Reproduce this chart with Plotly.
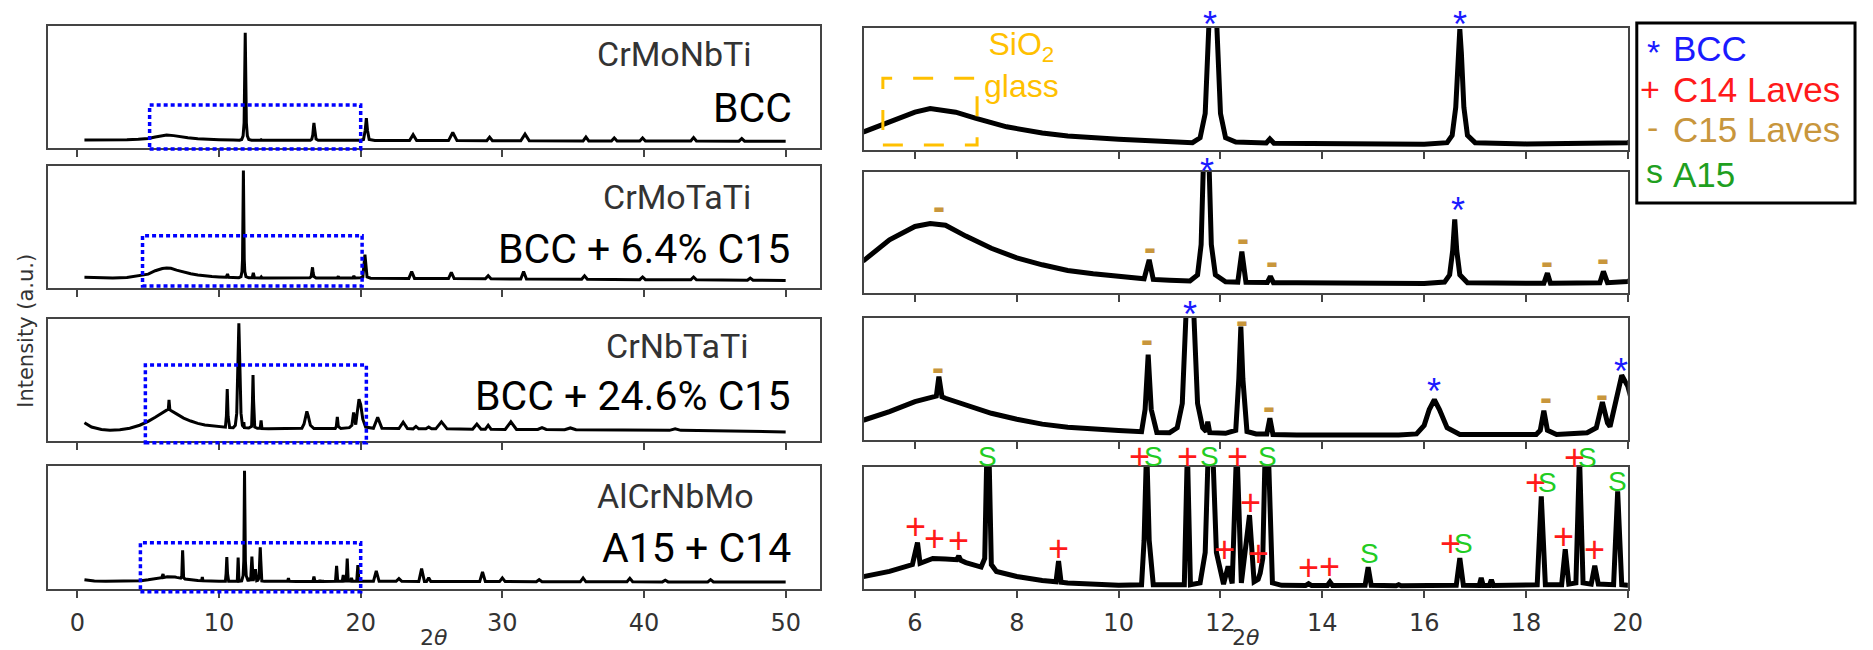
import plotly.graph_objects as go

# ---------------- data ----------------
samples = ["CrMoNbTi", "CrMoTaTi", "CrNbTaTi", "AlCrNbMo"]
phases = ["BCC", "BCC + 6.4% C15", "BCC + 24.6% C15", "A15 + C14"]

left_ticks = [0, 10, 20, 30, 40, 50]
right_ticks = [6, 8, 10, 12, 14, 16, 18, 20]

# XRD pattern vertices (2theta, intensity a.u.)
crmonbti = [
    (0.5, 0.07), (1.5, 0.06), (2.5, 0.06), (3.5, 0.08), (4.3, 0.11), (5.0, 0.15), (5.5, 0.23),
    (6.0, 0.31), (6.3, 0.34), (6.8, 0.31), (7.2, 0.26), (7.8, 0.19), (8.5, 0.14), (9.0, 0.115),
    (10.0, 0.088), (11.0, 0.068), (11.45, 0.06),
    (11.6, 0.1), (11.7, 0.3), (11.77, 1.0), (11.85, 5.88), (11.93, 1.0), (12.0, 0.3), (12.1, 0.1),
    (12.3, 0.065),
    (12.9, 0.058), (12.97, 0.09), (13.05, 0.055),
    (14.0, 0.05), (15.0, 0.048), (16.0, 0.048), (16.45, 0.06),
    (16.55, 0.12), (16.62, 0.35), (16.67, 0.8), (16.7, 0.99), (16.73, 0.8), (16.78, 0.35),
    (16.85, 0.12), (17.0, 0.06),
    (18.0, 0.05), (19.0, 0.05), (20.0, 0.06),
    (20.2, 0.1), (20.32, 0.6), (20.4, 1.26), (20.48, 0.6), (20.6, 0.1), (21.0, 0.05),
    (23.45, 0.045), (23.7, 0.36), (23.95, 0.045),
    (26.2, 0.04), (26.5, 0.48), (26.8, 0.04),
    (28.9, 0.035), (29.1, 0.23), (29.3, 0.035),
    (31.3, 0.03), (31.6, 0.39), (31.9, 0.03),
    (35.7, 0.025), (35.9, 0.23), (36.1, 0.025),
    (37.7, 0.02), (37.9, 0.18), (38.1, 0.02),
    (39.7, 0.02), (39.9, 0.18), (40.1, 0.02),
    (43.3, 0.015), (43.5, 0.2), (43.7, 0.015),
    (46.7, 0.01), (46.9, 0.15), (47.1, 0.01),
    (50.0, 0.0),
]

crmotati = [
    (0.5, 0.12), (1.5, 0.09), (2.5, 0.08), (3.5, 0.11), (4.3, 0.18), (5.0, 0.27), (5.5, 0.44),
    (6.0, 0.55), (6.3, 0.575), (6.6, 0.56), (7.0, 0.47), (7.5, 0.37), (8.0, 0.29), (8.5, 0.233),
    (9.0, 0.186), (9.5, 0.159), (10.0, 0.137), (10.5, 0.117),
    (10.6, 0.274), (10.68, 0.112),
    (11.0, 0.105), (11.4, 0.1),
    (11.55, 0.15), (11.62, 0.4), (11.66, 1.0), (11.72, 5.37), (11.78, 1.0), (11.82, 0.4),
    (11.9, 0.15), (12.1, 0.092),
    (12.34, 0.09), (12.42, 0.342), (12.5, 0.088),
    (12.92, 0.087), (12.98, 0.137), (13.04, 0.085),
    (13.5, 0.085), (14.0, 0.082), (15.0, 0.079), (16.0, 0.078), (16.4, 0.09),
    (16.5, 0.15), (16.56, 0.35), (16.6, 0.608), (16.64, 0.35), (16.7, 0.15), (16.85, 0.085),
    (17.5, 0.08), (18.35, 0.08), (18.42, 0.164), (18.48, 0.08),
    (19.0, 0.082), (19.45, 0.085), (19.52, 0.178), (19.6, 0.085),
    (20.0, 0.095), (20.15, 0.13), (20.3, 1.23), (20.45, 0.13), (20.7, 0.07),
    (23.4, 0.06), (23.6, 0.40), (23.8, 0.06),
    (26.2, 0.055), (26.4, 0.36), (26.6, 0.055),
    (28.8, 0.04), (29.0, 0.19), (29.2, 0.04),
    (31.3, 0.035), (31.5, 0.40), (31.7, 0.035),
    (35.6, 0.02), (35.8, 0.19), (36.0, 0.02),
    (39.7, 0.0), (39.9, 0.13), (40.1, 0.0),
    (43.3, -0.01), (43.5, 0.13), (43.7, -0.01),
    (47.3, -0.03), (47.5, 0.08), (47.7, -0.03),
    (50.0, -0.04),
]

crnbtati = [
    (0.5, 0.14), (1.0, 0.07), (1.7, 0.03), (2.3, 0.017), (3.0, 0.025), (3.7, 0.05), (4.4, 0.1),
    (5.0, 0.164), (5.5, 0.233), (6.0, 0.315), (6.3, 0.35), (6.42, 0.36),
    (6.47, 0.52), (6.53, 0.355),
    (6.6, 0.342), (7.0, 0.288), (7.5, 0.219), (8.0, 0.17), (8.5, 0.13), (9.0, 0.104), (9.5, 0.088),
    (10.0, 0.077), (10.45, 0.068),
    (10.52, 0.25), (10.58, 0.70), (10.64, 0.25), (10.75, 0.062),
    (11.0, 0.06), (11.15, 0.1), (11.25, 0.3), (11.32, 1.0), (11.4, 1.79), (11.48, 1.0),
    (11.55, 0.3), (11.65, 0.1),
    (11.72, 0.07), (11.75, 0.15), (11.79, 0.06),
    (12.1, 0.055), (12.3, 0.08), (12.36, 0.5), (12.4, 0.93), (12.44, 0.5), (12.52, 0.07),
    (12.7, 0.05), (12.91, 0.05), (12.97, 0.178), (13.03, 0.045),
    (13.5, 0.042), (14.5, 0.041), (15.5, 0.042), (15.85, 0.05),
    (16.0, 0.12), (16.1, 0.25), (16.2, 0.33), (16.3, 0.25), (16.45, 0.1), (16.7, 0.045),
    (17.5, 0.041), (18.2, 0.045), (18.28, 0.08), (18.35, 0.24), (18.42, 0.08), (18.6, 0.045),
    (19.2, 0.06), (19.38, 0.1), (19.5, 0.31), (19.6, 0.14), (19.65, 0.11), (19.75, 0.3),
    (19.88, 0.53), (20.0, 0.44), (20.15, 0.2), (20.35, 0.07),
    (20.9, 0.05), (21.2, 0.23), (21.5, 0.05),
    (22.7, 0.045), (23.0, 0.15), (23.3, 0.045),
    (23.7, 0.04), (23.9, 0.08), (24.1, 0.04),
    (24.6, 0.04), (24.8, 0.07), (25.0, 0.04),
    (25.3, 0.04), (25.7, 0.156), (26.1, 0.04),
    (27.9, 0.035), (28.2, 0.12), (28.5, 0.035),
    (28.8, 0.035), (29.0, 0.10), (29.2, 0.035),
    (30.2, 0.03), (30.6, 0.156), (31.0, 0.03),
    (32.5, 0.03), (32.8, 0.06), (33.1, 0.03),
    (34.4, 0.025), (34.8, 0.055), (35.2, 0.025),
    (41.8, 0.015), (42.2, 0.04), (42.6, 0.015),
    (50.0, -0.01),
]

alcrnbmo = [
    (0.5, 0.11), (1.2, 0.05), (2.0, 0.03), (3.0, 0.03), (4.0, 0.04), (4.5, 0.06), (5.0, 0.103),
    (5.5, 0.144), (5.95, 0.2),
    (6.05, 0.38), (6.1, 0.21),
    (6.35, 0.25), (6.6, 0.245), (6.82, 0.24), (6.86, 0.27), (6.9, 0.235), (7.0, 0.217), (7.3, 0.18),
    (7.37, 0.25), (7.4, 1.0), (7.43, 1.49), (7.46, 1.0), (7.5, 0.2),
    (7.6, 0.144), (8.0, 0.103), (8.5, 0.07), (8.77, 0.06), (8.82, 0.23), (8.87, 0.055),
    (9.0, 0.049), (9.5, 0.035), (10.0, 0.03), (10.45, 0.035),
    (10.5, 0.4), (10.55, 1.18), (10.6, 0.4), (10.68, 0.035),
    (11.0, 0.03), (11.29, 0.035), (11.35, 1.15), (11.41, 0.035),
    (11.6, 0.05), (11.7, 0.3), (11.75, 1.0), (11.8, 5.24), (11.86, 1.0), (11.92, 0.3), (12.06, 0.04),
    (12.15, 0.185), (12.23, 0.045),
    (12.32, 1.2), (12.41, 0.05),
    (12.57, 0.606), (12.66, 0.06),
    (12.74, 0.08), (12.78, 0.13), (12.83, 0.25), (12.87, 1.0), (12.91, 1.64), (12.95, 1.0),
    (13.02, 0.05), (13.2, 0.03),
    (13.67, 0.028), (13.73, 0.043), (13.79, 0.028),
    (14.1, 0.028), (14.15, 0.057), (14.2, 0.028),
    (14.84, 0.03), (14.9, 0.18), (14.96, 0.03),
    (15.45, 0.027), (15.5, 0.035), (15.55, 0.027),
    (16.63, 0.03), (16.7, 0.253), (16.77, 0.03),
    (17.08, 0.028), (17.12, 0.09), (17.16, 0.028),
    (17.28, 0.028), (17.32, 0.076), (17.36, 0.028),
    (18.22, 0.035), (18.3, 0.76), (18.38, 0.035),
    (18.7, 0.035), (18.77, 0.326), (18.84, 0.04),
    (18.98, 0.05), (19.05, 1.1), (19.12, 0.05),
    (19.28, 0.04), (19.35, 0.19), (19.42, 0.04),
    (19.72, 0.035), (19.8, 0.80), (19.88, 0.035),
    (20.0, 0.03),
    (20.9, 0.03), (21.1, 0.52), (21.3, 0.03),
    (22.5, 0.03), (22.7, 0.16), (22.9, 0.03),
    (24.1, 0.025), (24.3, 0.63), (24.5, 0.025),
    (24.65, 0.025), (24.8, 0.2), (24.95, 0.025),
    (28.4, 0.02), (28.6, 0.47), (28.8, 0.02),
    (29.8, 0.02), (30.0, 0.19), (30.2, 0.02),
    (32.4, 0.015), (32.6, 0.11), (32.8, 0.015),
    (35.5, 0.01), (35.7, 0.19), (35.9, 0.01),
    (38.8, 0.01), (39.0, 0.17), (39.2, 0.01),
    (41.3, 0.005), (41.5, 0.08), (41.7, 0.005),
    (44.5, 0.0), (44.7, 0.11), (44.9, 0.0),
    (50.0, 0.0),
]

patterns = [crmonbti, crmotati, crnbtati, alcrnbmo]

# phase markers on the zoomed panels: (panel, 2theta, height as fraction of panel)
bcc_marks = [(0, 11.80, 1.093), (0, 16.70, 1.093),
             (1, 11.73, 1.07), (1, 16.66, 0.745),
             (2, 11.40, 1.096), (2, 16.19, 0.466), (2, 19.87, 0.625)]
c15_marks = [(1, 6.48, 0.70), (1, 10.62, 0.356), (1, 12.44, 0.433), (1, 13.01, 0.241),
             (1, 18.41, 0.247), (1, 19.52, 0.268),
             (2, 6.45, 0.58), (2, 10.55, 0.81), (2, 12.42, 0.964), (2, 12.96, 0.255),
             (2, 18.40, 0.334), (2, 19.50, 0.356)]
c14_marks = [(3, 10.41, 1.084), (3, 11.35, 1.084), (3, 12.33, 1.084),
             (3, 6.02, 0.511), (3, 6.38, 0.416), (3, 6.86, 0.397), (3, 8.81, 0.334),
             (3, 12.08, 0.321), (3, 12.58, 0.713), (3, 12.74, 0.288), (3, 13.72, 0.179),
             (3, 14.15, 0.185), (3, 16.51, 0.37), (3, 18.18, 0.872), (3, 18.74, 0.429),
             (3, 18.95, 1.08), (3, 19.35, 0.321)]
a15_marks = [(3, 7.43, 1.087), (3, 10.69, 1.087), (3, 11.79, 1.087), (3, 12.92, 1.087),
             (3, 14.93, 0.288), (3, 16.78, 0.37), (3, 18.43, 0.872), (3, 19.20, 1.08),
             (3, 19.79, 0.883)]

legend_symbols = ["*", "+", "-", "s"]
legend_words = ["BCC", "C14 Laves", "C15 Laves", "A15"]

# zoom windows drawn on the full-range panels: (x0, x1, y0, y1) in 2theta / panel fraction
zoom_boxes = [(5.1, 20.0, -0.008, 0.352), (4.6, 20.1, 0.016, 0.429),
              (4.8, 20.4, -0.014, 0.623), (4.45, 20.0, -0.022, 0.376)]

# ---------------- layout helpers ----------------
W, H = 1873, 650


def pxx(x):
    return x / W


def pxy(y):
    return 1 - y / H


left_rows = [(26, 148), (166, 288), (319, 441), (466, 589)]
right_rows = [(28, 150), (172, 293), (318, 440), (467, 589)]
left_cols = (48, 827)
right_cols = (871, 1641)
left_ranges = [(-0.36, 6.24), (-0.41, 5.59), (-0.161, 1.859), (-0.33, 5.47)]

FRAME = "#444444"
TICKFONT = dict(family="DejaVu Sans", size=24, color="#333333")
MARKFONT = "Liberation Sans, Arial, sans-serif"
LABELFONT = "Roboto, Liberation Sans, sans-serif"

fig = go.Figure()
layout = dict(width=W, height=H, margin=dict(l=0, r=0, t=0, b=0),
              plot_bgcolor="white", paper_bgcolor="white", showlegend=False)
annotations = []
shapes = []


def axname(n):
    return "" if n == 1 else str(n)


for i, pts in enumerate(patterns):
    xs = [p[0] for p in pts]
    ys = [p[1] for p in pts]
    nl = i + 1
    nr = i + 5
    fig.add_trace(go.Scatter(x=xs, y=ys, mode="lines", line=dict(color="black", width=3),
                             xaxis="x" + axname(nl), yaxis="y" + axname(nl), hoverinfo="skip"))
    fig.add_trace(go.Scatter(x=xs, y=ys, mode="lines", line=dict(color="black", width=5),
                             xaxis="x" + axname(nr), yaxis="y" + axname(nr), hoverinfo="skip"))
    common_x = dict(ticks="outside", ticklen=7, tickwidth=2, tickcolor=FRAME, showline=True,
                    mirror=True, linecolor=FRAME, linewidth=2, showgrid=False, zeroline=False,
                    tickfont=TICKFONT, ticklabelstandoff=4)
    common_y = dict(showticklabels=False, ticks="", showline=True, mirror=True, linecolor=FRAME,
                    linewidth=2, showgrid=False, zeroline=False)
    lt, lb = left_rows[i]
    rt, rb = right_rows[i]
    layout["xaxis" + axname(nl)] = dict(domain=[pxx(left_cols[0]), pxx(left_cols[1])],
                                        range=[-2.1, 52.45], anchor="y" + axname(nl),
                                        tickvals=left_ticks, showticklabels=(i == 3), **common_x)
    layout["yaxis" + axname(nl)] = dict(domain=[pxy(lb), pxy(lt)], range=list(left_ranges[i]),
                                        anchor="x" + axname(nl), **common_y)
    layout["xaxis" + axname(nr)] = dict(domain=[pxx(right_cols[0]), pxx(right_cols[1])],
                                        range=[5, 20], anchor="y" + axname(nr),
                                        tickvals=right_ticks, showticklabels=(i == 3), **common_x)
    layout["yaxis" + axname(nr)] = dict(domain=[pxy(rb), pxy(rt)], range=[0, 1],
                                        anchor="x" + axname(nr), **common_y)

    # zoom window box on the left panel
    x0, x1, y0, y1 = zoom_boxes[i]
    shapes.append(dict(type="rect", xref="x" + axname(nl), yref="y" + axname(nl) + " domain",
                       x0=x0, x1=x1, y0=y0, y1=y1,
                       line=dict(color="#0000ff", width=3.5, dash="4px,3px")))

# sample names and phases
name_pos = [(760, 54), (759, 197), (756, 346), (762, 496)]
phase_pos = [(800, 108), (798, 249), (798, 396), (799, 548)]
for i in range(4):
    annotations.append(dict(text=samples[i], xref="paper", yref="paper",
                            x=pxx(name_pos[i][0]), y=pxy(name_pos[i][1]),
                            xanchor="right", yanchor="middle", showarrow=False,
                            font=dict(family=LABELFONT, size=34, color="#333333")))
    annotations.append(dict(text=phases[i], xref="paper", yref="paper",
                            x=pxx(phase_pos[i][0]), y=pxy(phase_pos[i][1]),
                            xanchor="right", yanchor="middle", showarrow=False,
                            font=dict(family=LABELFONT, size=41, color="black")))

# phase marker annotations on the zoomed panels
mark_styles = [(bcc_marks, "*", "#1a1aff", 36, "normal", -8),
               (c15_marks, "-", "#c8963c", 36, "bold", 2),
               (c14_marks, "+", "#ff1a1a", 36, "normal", 0),
               (a15_marks, "S", "#22cc22", 28, "normal", 0)]
for marks, glyph, color, fsize, fweight, shift in mark_styles:
    for panel, xv, yf in marks:
        n = panel + 5
        annotations.append(dict(text=glyph, xref="x" + axname(n), yref="y" + axname(n) + " domain",
                                x=xv, y=yf, xanchor="center", yanchor="middle", yshift=shift,
                                showarrow=False,
                                font=dict(family=MARKFONT, size=fsize, color=color,
                                          weight=fweight)))

# SiO2 glass note and its dashed box
annotations.append(dict(text="SiO<sub>2</sub><br>glass", xref="x5", yref="y5 domain",
                        x=8.1, y=0.70, xanchor="center", yanchor="middle", showarrow=False,
                        font=dict(family=MARKFONT, size=32, color="#ffc000")))
shapes.append(dict(type="rect", xref="x5", yref="y5 domain", x0=5.37, x1=7.22, y0=0.04, y1=0.588,
                   line=dict(color="#ffc000", width=3, dash="20px,21px")))

# axis titles
annotations.append(dict(text="Intensity (a.u.)", xref="paper", yref="paper", x=pxx(26), y=pxy(331),
                        textangle=-90, xanchor="center", yanchor="middle", showarrow=False,
                        font=dict(family="DejaVu Sans", size=21, color="#333333")))
for cx in [(left_cols[0] + left_cols[1]) / 2, (right_cols[0] + right_cols[1]) / 2]:
    annotations.append(dict(text="2<i>θ</i>", xref="paper", yref="paper", x=pxx(cx), y=pxy(637),
                            xanchor="center", yanchor="middle", showarrow=False,
                            font=dict(family="DejaVu Sans", size=22, color="#333333")))

# phase legend box
shapes.append(dict(type="rect", xref="paper", yref="paper", x0=pxx(1650), x1=pxx(1870),
                   y0=pxy(203), y1=pxy(23), line=dict(color="black", width=3)))
legend_colors = ["#1a1aff", "#ff1a1a", "#c8963c", "#1f9f1f"]
legend_y = [48, 89, 129, 174]
legend_sym_x = [1667, 1663, 1666, 1668]
legend_sym_shift = [-4, 0, 2, 3]
for k in range(4):
    annotations.append(dict(text=legend_symbols[k], xref="paper", yref="paper",
                            x=pxx(legend_sym_x[k]), y=pxy(legend_y[k]), xanchor="center",
                            yanchor="middle", yshift=legend_sym_shift[k], showarrow=False,
                            font=dict(family=MARKFONT, size=34, color=legend_colors[k])))
    annotations.append(dict(text=legend_words[k], xref="paper", yref="paper",
                            x=pxx(1684), y=pxy(legend_y[k]), xanchor="left",
                            yanchor="middle", showarrow=False,
                            font=dict(family=MARKFONT, size=35, color=legend_colors[k])))

layout["annotations"] = annotations
layout["shapes"] = shapes
fig.update_layout(**layout)
fig.write_html("out.html", config={"displayModeBar": False},
               post_script="document.body.style.margin='0px';")
